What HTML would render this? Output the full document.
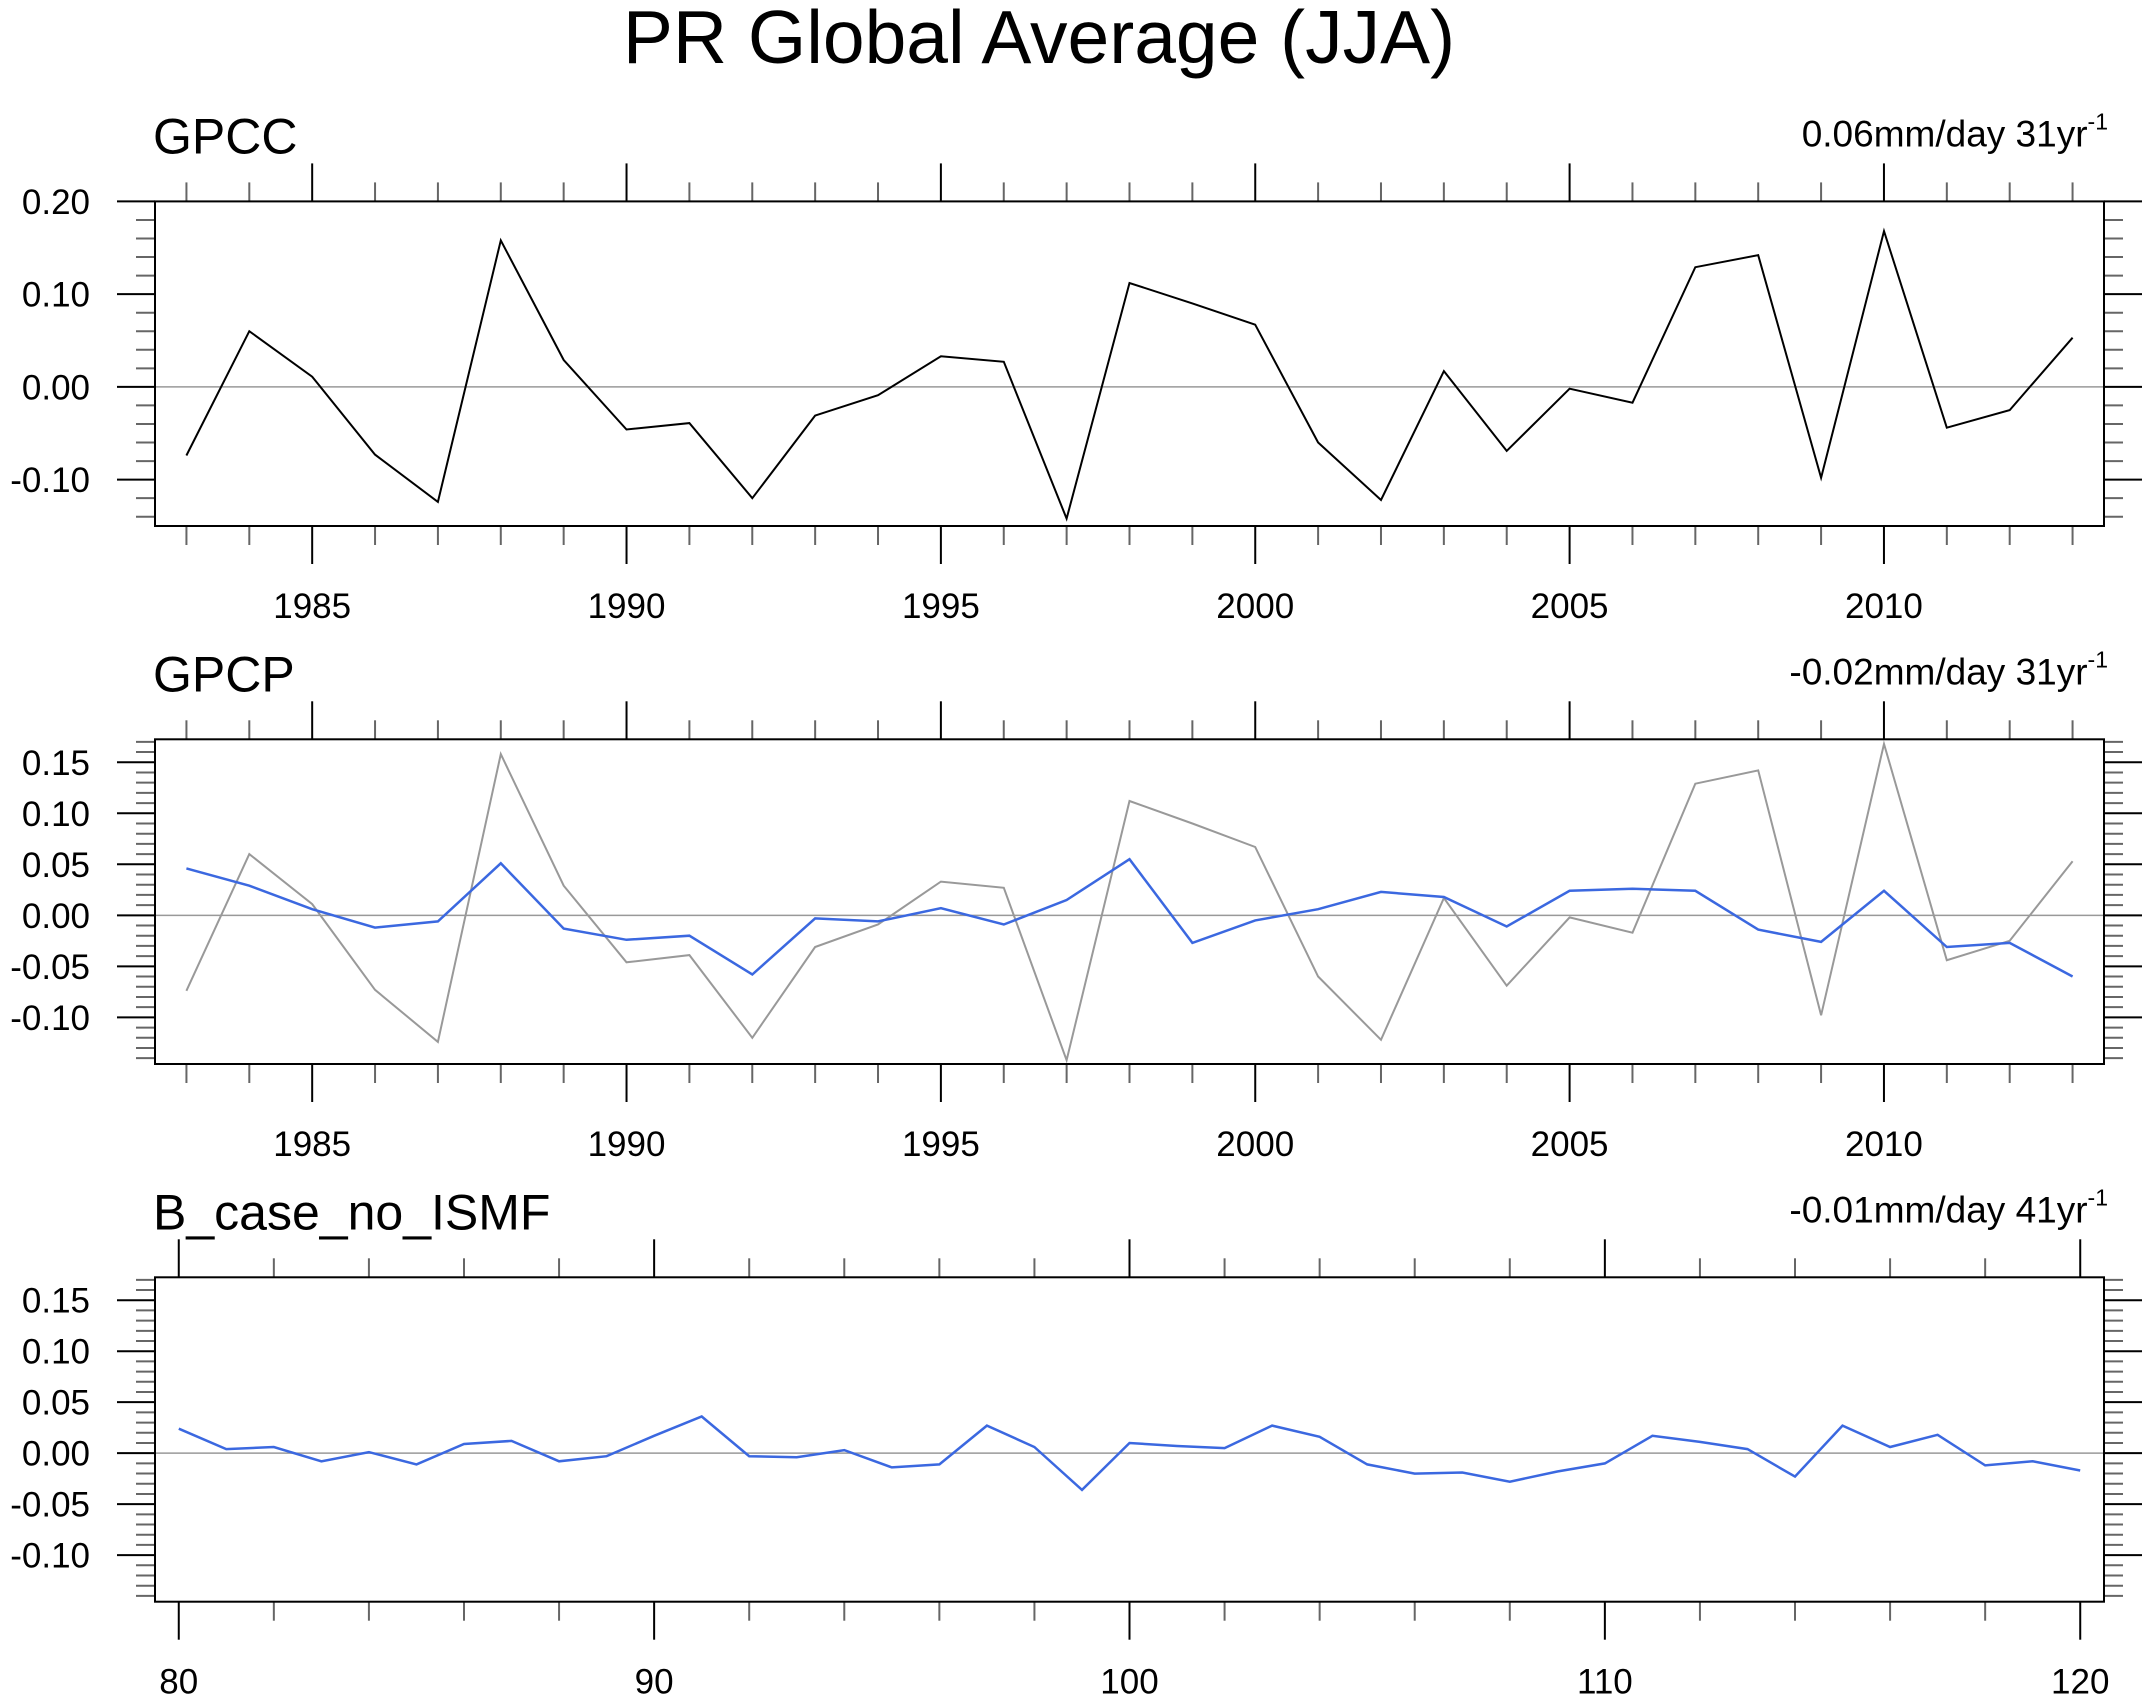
<!DOCTYPE html>
<html><head><meta charset="utf-8"><style>
html,body{margin:0;padding:0;background:#fff;}
svg text{font-family:"Liberation Sans",sans-serif;fill:#000;}
</style></head><body>
<svg id="chart" width="2152" height="1703" viewBox="0 0 2152 1703" xmlns="http://www.w3.org/2000/svg">
<text x="1039" y="63" font-size="75" text-anchor="middle">PR Global Average (JJA)</text>
</svg>
<script>
const yearsObs = [1983,1984,1985,1986,1987,1988,1989,1990,1991,1992,1993,1994,1995,1996,1997,1998,1999,2000,2001,2002,2003,2004,2005,2006,2007,2008,2009,2010,2011,2012,2013];
const gpccValues = [-0.074,0.060,0.011,-0.073,-0.124,0.158,0.029,-0.046,-0.039,-0.120,-0.031,-0.009,0.033,0.027,-0.142,0.112,0.090,0.067,-0.060,-0.122,0.017,-0.069,-0.002,-0.017,0.129,0.142,-0.098,0.168,-0.044,-0.025,0.053];
const gpcpValues = [0.046,0.029,0.006,-0.012,-0.006,0.051,-0.013,-0.024,-0.020,-0.058,-0.003,-0.006,0.007,-0.009,0.015,0.055,-0.027,-0.005,0.006,0.023,0.018,-0.011,0.024,0.026,0.024,-0.014,-0.026,0.024,-0.031,-0.027,-0.060];
const yearsModel = [80,81,82,83,84,85,86,87,88,89,90,91,92,93,94,95,96,97,98,99,100,101,102,103,104,105,106,107,108,109,110,111,112,113,114,115,116,117,118,119,120];
const modelValues = [0.024,0.004,0.006,-0.008,0.001,-0.011,0.009,0.012,-0.008,-0.003,0.017,0.036,-0.003,-0.004,0.003,-0.014,-0.011,0.027,0.006,-0.036,0.010,0.007,0.005,0.027,0.016,-0.011,-0.020,-0.019,-0.028,-0.018,-0.010,0.017,0.011,0.004,-0.023,0.027,0.006,0.018,-0.012,-0.008,-0.017];
const panel1YTicks = [0.20,0.10,0.00,-0.10];
const panel23YTicks = [0.15,0.10,0.05,0.00,-0.05,-0.10];
const obsXLabels = [1985,1990,1995,2000,2005,2010];
const modelXLabels = [80,90,100,110,120];
const titles = ['GPCC','GPCP','B_case_no_ISMF'];
const trendLabels = ['0.06mm/day 31yr','-0.02mm/day 31yr','-0.01mm/day 41yr'];

const NS='http://www.w3.org/2000/svg';
const svg=document.getElementById('chart');
function mk(tag,attrs,parent){const e=document.createElementNS(NS,tag);for(const k in attrs)e.setAttribute(k,attrs[k]);(parent||svg).appendChild(e);return e;}

const L=155,R=2104;
function panel(cfg){
  const g=mk('g',{});
  
  
  const T=cfg.top,B=cfg.bottom;
  const xs=v=>L+(v-cfg.xmin)/(cfg.xmax-cfg.xmin)*(R-L);
  const ys=v=>T+(cfg.ymax-v)/(cfg.ymax-cfg.ymin)*(B-T);
  const start=Math.ceil(cfg.ymin/cfg.yMinor-1e-6);
  for(let i=start;i*cfg.yMinor<=cfg.ymax+1e-9;i++){
    const v=i*cfg.yMinor;const y=ys(v);
    const isMaj=Math.abs(v/cfg.yMajor-Math.round(v/cfg.yMajor))<1e-6;
    const len=isMaj?38:19;const col=isMaj?'#000':'#666';
    mk('line',{x1:L-len,x2:L,y1:y,y2:y,stroke:col,'stroke-width':2},g);
    mk('line',{x1:R,x2:R+len,y1:y,y2:y,stroke:col,'stroke-width':2},g);
  }
  cfg.yTicks.forEach(v=>{
    const t=mk('text',{x:90,y:ys(v)+12.5,'font-size':35,'text-anchor':'end'},g);
    t.textContent=v.toFixed(2);
    
    
  });
  for(let v=cfg.xTickStart;v<=cfg.xmax;v+=cfg.xMinor){
    const x=xs(v);const isMaj=(v%cfg.xMajor)===0;
    const len=isMaj?38:19;const col=isMaj?'#000':'#666';
    mk('line',{x1:x,x2:x,y1:T-len,y2:T,stroke:col,'stroke-width':2},g);
    mk('line',{x1:x,x2:x,y1:B,y2:B+len,stroke:col,'stroke-width':2},g);
  }
  cfg.xLabels.forEach(v=>{
    const t=mk('text',{x:xs(v),y:B+92,'font-size':35,'text-anchor':'middle'},g);
    t.textContent=String(v);
    
    
  });
  const z=mk('line',{x1:L,x2:R,y1:ys(0),y2:ys(0),stroke:'#999','stroke-width':1.5},g);
  
  
  cfg.series.forEach(s=>{
    const p=mk('polyline',{points:s.x.map((xv,i)=>xs(xv).toFixed(1)+','+ys(s.y[i]).toFixed(1)).join(' '),fill:'none',stroke:s.color,'stroke-width':s.w,'stroke-linejoin':'miter'},g);
    
    
  });
  const f=mk('rect',{x:L,y:T,width:R-L,height:B-T,fill:'none',stroke:'#000','stroke-width':2},g);
  
  
  const tt=mk('text',{x:153,y:T-48,'font-size':50},g);
  tt.textContent=cfg.title;
  
  
  const tr=mk('text',{x:2108,y:T-55,'font-size':37,'text-anchor':'end'},g);
  
  
  const s1=mk('tspan',{},tr);s1.textContent=cfg.trend;
  const s2=mk('tspan',{dy:-17,'font-size':23},tr);s2.textContent='-1';
}
panel({name:'gpcc-panel',top:201.4,bottom:526,xmin:1982.5,xmax:2013.5,ymin:-0.15,ymax:0.20,yMinor:0.02,yMajor:0.10,yTicks:panel1YTicks,
  xTickStart:1983,xMinor:1,xMajor:5,xLabels:obsXLabels,title:titles[0],trend:trendLabels[0],
  series:[{x:yearsObs,y:gpccValues,color:'#000',w:2,name:'gpcc-line'}]});
panel({name:'gpcp-panel',top:739.3,bottom:1064,xmin:1982.5,xmax:2013.5,ymin:-0.1457,ymax:0.1725,yMinor:0.01,yMajor:0.05,yTicks:panel23YTicks,
  xTickStart:1983,xMinor:1,xMajor:5,xLabels:obsXLabels,title:titles[1],trend:trendLabels[1],
  series:[{x:yearsObs,y:gpccValues,color:'#999',w:2,name:'gpcc-reference-line'},{x:yearsObs,y:gpcpValues,color:'#3b68e0',w:2.5,name:'gpcp-line'}]});
panel({name:'model-panel',top:1277.3,bottom:1601.7,xmin:79.5,xmax:120.5,ymin:-0.1457,ymax:0.1725,yMinor:0.01,yMajor:0.05,yTicks:panel23YTicks,
  xTickStart:80,xMinor:2,xMajor:10,xLabels:modelXLabels,title:titles[2],trend:trendLabels[2],
  series:[{x:yearsModel,y:modelValues,color:'#3b68e0',w:2.5,name:'model-line'}]});
</script>
</body></html>
